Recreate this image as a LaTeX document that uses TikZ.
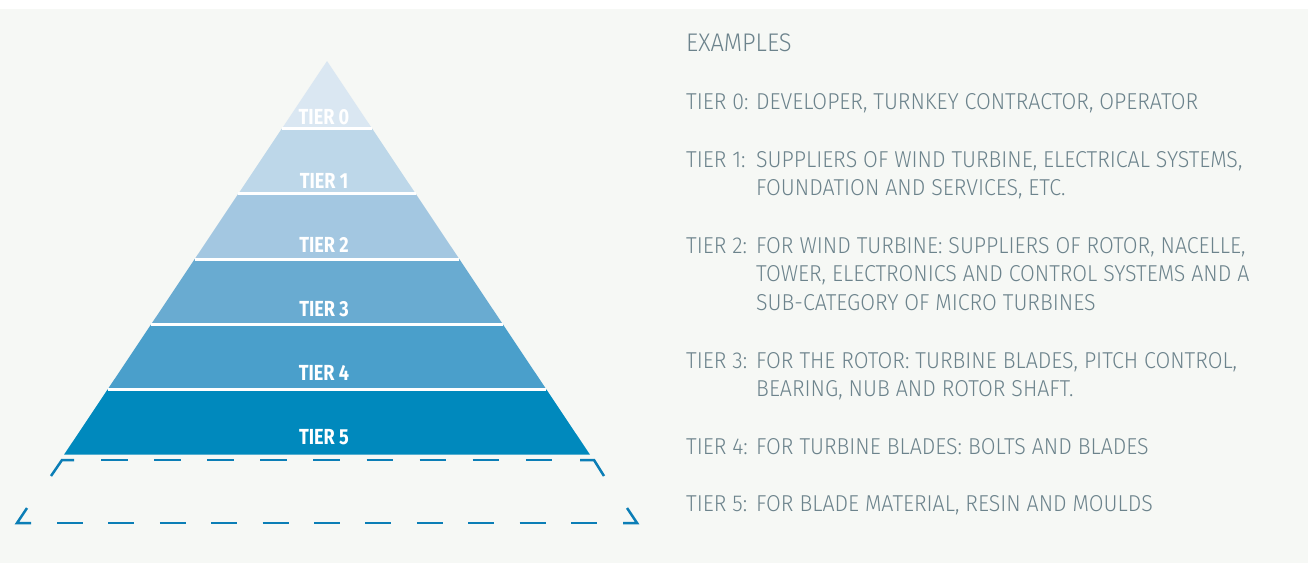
\documentclass[tikz,border=0pt]{standalone}
\usepackage{xcolor}
\usepackage{fontspec}
\usepackage{tikz}
\usetikzlibrary{calc}
\setmainfont{Fira Sans Light}[FakeStretch=0.93]
\newfontfamily\tierfont{Fira Sans}[FakeStretch=0.83]
\definecolor{panelbg}{HTML}{F6F8F5}
\definecolor{tierzero}{HTML}{DAE7F2}
\definecolor{tierone}{HTML}{BDD7E9}
\definecolor{tiertwo}{HTML}{A3C7E1}
\definecolor{tierthree}{HTML}{69ABD1}
\definecolor{tierfour}{HTML}{4A9FCB}
\definecolor{tierfive}{HTML}{0089BD}
\definecolor{dashblue}{HTML}{0B7EB6}
\definecolor{exgray}{HTML}{6C838C}

\begin{document}
\begin{tikzpicture}[
  x=1pt, y=-1pt,
  tier/.style={fill=#1},
  sep/.style={draw=white, line width=3pt},
  tierlabel/.style={
    text=white, inner sep=0pt,
    font=\tierfont\bfseries\fontsize{21.8}{22}\selectfont},
  bracket/.style={draw=dashblue, line width=2.5pt},
  topgaps/.style={dash pattern=on 26.5pt off 26.6pt},
  botgaps/.style={dash pattern=on 26pt off 25.4pt},
  entry/.style={
    anchor=base west, align=left, inner sep=0pt, text=exgray,
    font=\fontsize{23}{28.5}\selectfont},
]

  \def\apexx{327}%
  \def\apexy{61}%
  \def\slope{0.668}%
  \def\tierheight{65.2}%
  \def\indentw{70pt}%
  \def\lineskp{28.5}%

  % page and panel
  \fill[white] (0,0) rectangle (1308,563);
  \fill[panelbg] (0,9) rectangle (1308,563);

  % Pyramid tiers
  \foreach \i/\col in {0/tierzero,1/tierone,2/tiertwo,3/tierthree,4/tierfour,5/tierfive} {
    \pgfmathsetmacro\ytop{\i==0 ? \apexy : 128.7+\tierheight*(\i-1)}
    \pgfmathsetmacro\ybot{128.7+\tierheight*\i}
    \pgfmathsetmacro\wtop{(\ytop-\apexy)*\slope}
    \pgfmathsetmacro\wbot{(\ybot-\apexy)*\slope}
    \fill[tier=\col] (\apexx-\wtop,\ytop) -- (\apexx+\wtop,\ytop)
      -- (\apexx+\wbot,\ybot) -- (\apexx-\wbot,\ybot) -- cycle;
    \coordinate (bl\i) at (\apexx-\wbot,\ybot);
    \coordinate (br\i) at (\apexx+\wbot,\ybot);
    \node[tierlabel] (tier\i) at (324, 117+64*\i) {TIER \i};
  }
  \foreach \i in {0,...,4} {
    \draw[sep] (bl\i) -- (br\i);
  }

  % Dashed tier below the pyramid
  \coordinate (tl) at (62,460);
  \coordinate (tr) at (594,460);
  \coordinate (ll) at (17,523);
  \coordinate (lr) at (637,523);
  \draw[bracket] (51,476) -- (tl) -- (74,460);
  \draw[bracket,topgaps] (101,460) -- (553,460);
  \draw[bracket] (580,460) -- (tr) -- (604,476);
  \draw[bracket] (27,508) -- (ll) -- (31,523);
  \draw[bracket,botgaps] (57,523) -- (597,523);
  \draw[bracket] (623,523) -- (lr) -- (627,508);

  % Examples (base anchor sits on the last line)
  \node[entry,font=\fontsize{25.5}{28}\selectfont] (examples) at (686,51.5) {EXAMPLES};
  \node[entry] (ex0) at (686,109)
    {\makebox[\indentw][l]{TIER 0:}DEVELOPER, TURNKEY CONTRACTOR, OPERATOR};
  \node[entry] (ex1) at (686,167+\lineskp)
    {\makebox[\indentw][l]{TIER 1:}SUPPLIERS OF WIND TURBINE, ELECTRICAL SYSTEMS,\\
     \hspace*{\indentw}FOUNDATION AND SERVICES, ETC.};
  \node[entry] (ex2) at (686,253+2*\lineskp)
    {\makebox[\indentw][l]{TIER 2:}FOR WIND TURBINE: SUPPLIERS OF ROTOR, NACELLE,\\
     \hspace*{\indentw}TOWER, ELECTRONICS AND CONTROL SYSTEMS AND A\\
     \hspace*{\indentw}SUB-CATEGORY OF MICRO TURBINES};
  \node[entry] (ex3) at (686,368+\lineskp)
    {\makebox[\indentw][l]{TIER 3:}FOR THE ROTOR: TURBINE BLADES, PITCH CONTROL,\\
     \hspace*{\indentw}BEARING, NUB AND ROTOR SHAFT.};
  \node[entry] (ex4) at (686,454)
    {\makebox[\indentw][l]{TIER 4:}FOR TURBINE BLADES: BOLTS AND BLADES};
  \node[entry] (ex5) at (686,511)
    {\makebox[\indentw][l]{TIER 5:}FOR BLADE MATERIAL, RESIN AND MOULDS};

  \useasboundingbox (0,0) rectangle (1308,563);
\end{tikzpicture}
\end{document}
